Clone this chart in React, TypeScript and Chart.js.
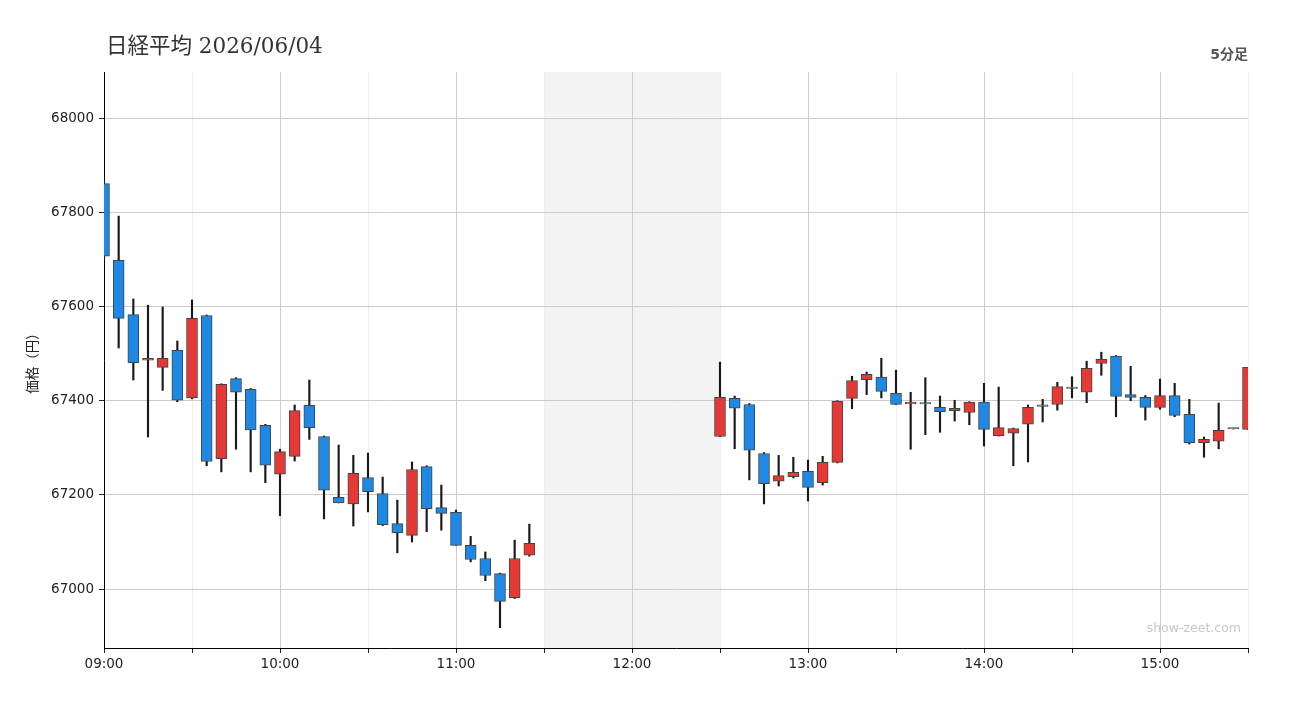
import React, { useEffect, useRef } from 'react';
import { Chart, registerables } from 'chart.js';

Chart.register(...registerables);

// ---- data (5-minute candles) ----
const TIMES = [
  '09:00', '09:05', '09:10', '09:15', '09:20', '09:25', '09:30', '09:35', '09:40', '09:45',
  '09:50', '09:55', '10:00', '10:05', '10:10', '10:15', '10:20', '10:25', '10:30', '10:35',
  '10:40', '10:45', '10:50', '10:55', '11:00', '11:05', '11:10', '11:15', '11:20', '11:25',
  '12:30', '12:35', '12:40', '12:45', '12:50', '12:55', '13:00', '13:05', '13:10', '13:15',
  '13:20', '13:25', '13:30', '13:35', '13:40', '13:45', '13:50', '13:55', '14:00', '14:05',
  '14:10', '14:15', '14:20', '14:25', '14:30', '14:35', '14:40', '14:45', '14:50', '14:55',
  '15:00', '15:05', '15:10', '15:15', '15:20', '15:25', '15:30',
];
const OPEN = [
  67861, 67698, 67583, 67486, 67471, 67507, 67406, 67581, 67277, 67447,
  67424, 67348, 67244, 67282, 67390, 67324, 67195, 67181, 67237, 67203,
  67139, 67114, 67260, 67173, 67163, 67093, 67065, 67033, 66982, 67072,
  67324, 67405, 67392, 67288, 67229, 67239, 67250, 67226, 67269, 67405,
  67445, 67450, 67416, 67393, 67393, 67386, 67379, 67375, 67397, 67326,
  67331, 67350, 67388, 67392, 67426, 67418, 67479, 67495, 67413, 67407,
  67386, 67411, 67371, 67311, 67314, 67340, 67339,
];
const HIGH = [
  67870, 67792, 67616, 67603, 67599, 67527, 67614, 67582, 67436, 67449,
  67426, 67350, 67297, 67391, 67444, 67325, 67306, 67284, 67289, 67238,
  67189, 67270, 67262, 67221, 67168, 67112, 67079, 67034, 67104, 67138,
  67482, 67410, 67394, 67290, 67284, 67280, 67274, 67282, 67400, 67452,
  67461, 67490, 67465, 67418, 67449, 67410, 67401, 67398, 67437, 67429,
  67342, 67391, 67403, 67439, 67451, 67484, 67503, 67496, 67473, 67411,
  67446, 67437, 67403, 67323, 67395, 67340, 67471,
];
const LOW = [
  67700, 67512, 67444, 67323, 67422, 67398, 67404, 67262, 67249, 67297,
  67249, 67226, 67156, 67272, 67318, 67149, 67183, 67134, 67164, 67135,
  67077, 67100, 67122, 67125, 67093, 67058, 67018, 66918, 66980, 67070,
  67324, 67298, 67232, 67181, 67219, 67236, 67187, 67221, 67268, 67383,
  67413, 67406, 67392, 67297, 67328, 67333, 67357, 67349, 67304, 67325,
  67262, 67270, 67355, 67380, 67406, 67396, 67454, 67366, 67400, 67359,
  67382, 67366, 67308, 67280, 67298, 67340, 67339,
];
const CLOSE = [
  67707, 67575, 67481, 67490, 67490, 67401, 67575, 67271, 67435, 67418,
  67338, 67263, 67292, 67379, 67343, 67210, 67183, 67246, 67207, 67137,
  67120, 67254, 67171, 67161, 67093, 67063, 67029, 66974, 67065, 67097,
  67407, 67384, 67295, 67224, 67241, 67248, 67216, 67269, 67399, 67443,
  67456, 67420, 67392, 67397, 67393, 67377, 67384, 67397, 67339, 67343,
  67341, 67386, 67388, 67430, 67426, 67469, 67488, 67409, 67407, 67386,
  67411, 67369, 67311, 67318, 67337, 67340, 67471,
];

const Y_TICKS = [67000, 67200, 67400, 67600, 67800, 68000];
const X_TICKS = ['09:00', '09:30', '10:00', '10:30', '11:00', '11:30', '12:00', '12:30', '13:00', '13:30', '14:00', '14:30', '15:00', '15:30'];

const TITLE = '日経平均 2026/06/04';
const INTERVAL_LABEL = '5分足';
const Y_TITLE = '価格（円）';
const WATERMARK = 'show-zeet.com';
const SESSION_START = '09:00';
const SESSION_END = '15:30';
const BREAK_START = '11:30';
const BREAK_END = '12:30';
const Y_MIN = 66875;
const Y_MAX = 68098;

const UP = '#e53935';
const DOWN = '#1e88e5';
const FLAT = '#777777';

const toMin = (t: string) => {
  const [h, m] = t.split(':').map(Number);
  return h * 60 + m;
};
const BASE = toMin(SESSION_START);
const xOf = (t: string) => toMin(t) - BASE;
const fmt = (v: number) => {
  const t = v + BASE;
  const h = Math.floor(t / 60);
  const m = t % 60;
  return `${String(h).padStart(2, '0')}:${String(m).padStart(2, '0')}`;
};

const SANS = "'DejaVu Sans', 'Noto Sans CJK JP', sans-serif";
const SERIF = "'DejaVu Serif', 'Noto Sans CJK JP', serif";

const overlayPlugin = {
  id: 'overlay',
  beforeDraw(chart: any) {
    const { ctx, chartArea, scales } = chart;
    const x0 = scales.x.getPixelForValue(xOf(BREAK_START));
    const x1 = scales.x.getPixelForValue(xOf(BREAK_END));
    ctx.save();
    ctx.fillStyle = '#f3f3f3';
    ctx.fillRect(x0, chartArea.top, x1 - x0, chartArea.bottom - chartArea.top);
    ctx.restore();
  },
  afterDraw(chart: any) {
    const { ctx, chartArea } = chart;
    ctx.save();
    ctx.textBaseline = 'alphabetic';
    ctx.textAlign = 'left';
    ctx.fillStyle = '#333333';
    ctx.font = `21.5px ${SERIF}`;
    ctx.fillText(TITLE, chartArea.left + 2, 53);

    ctx.textAlign = 'right';
    ctx.fillStyle = '#555555';
    ctx.font = `bold 14px ${SANS}`;
    ctx.fillText(INTERVAL_LABEL, chartArea.right, 59);

    ctx.fillStyle = '#c8c8c8';
    ctx.font = `12.5px ${SANS}`;
    ctx.fillText(WATERMARK, chartArea.right - 7, 632);
    ctx.restore();
  },
};

export default function App() {
  const ref = useRef<HTMLCanvasElement | null>(null);

  useEffect(() => {
    if (!ref.current) return;
    const xs = TIMES.map(xOf);
    const colors = TIMES.map((_, i) =>
      CLOSE[i] > OPEN[i] ? UP : CLOSE[i] < OPEN[i] ? DOWN : FLAT
    );
    const chart = new Chart(ref.current, {
      type: 'bar',
      data: {
        datasets: [
          {
            label: 'body',
            data: xs.map((x, i) => ({ x, y: [OPEN[i], CLOSE[i]] })) as any,
            backgroundColor: colors,
            borderColor: '#444444',
            borderWidth: 1,
            borderSkipped: false,
            barThickness: 11,
            minBarLength: 1.5,
            grouped: false,
            order: 0,
          } as any,
          {
            label: 'wick',
            data: xs.map((x, i) => ({ x, y: [LOW[i], HIGH[i]] })) as any,
            backgroundColor: '#1a1a1a',
            borderWidth: 0,
            barThickness: 1.5,
            grouped: false,
            order: 1,
          } as any,
        ],
      },
      options: {
        animation: false,
        responsive: false,
        devicePixelRatio: 1,
        layout: { padding: { top: 72, right: 52, left: 0, bottom: 0 } },
        plugins: {
          legend: { display: false },
          tooltip: { enabled: false },
          title: { display: false },
        },
        scales: {
          x: {
            type: 'linear',
            offset: false,
            min: xOf(SESSION_START),
            max: xOf(SESSION_END),
            afterBuildTicks: (s: any) => {
              s.ticks = X_TICKS.map((t) => ({ value: xOf(t) }));
            },
            ticks: {
              autoSkip: false,
              maxRotation: 0,
              color: '#222222',
              font: { family: SANS, size: 13.5 },
              padding: 3,
              callback: (v: any) => (Number(v) % 60 === 0 ? fmt(Number(v)) : ''),
            },
            grid: {
              offset: false,
              color: (c: any) => (c.tick && c.tick.value % 60 === 0 ? '#cccccc' : '#eeeeee'),
              tickLength: 5,
              tickColor: '#222222',
            },
            border: { color: '#000000', width: 1 },
            afterFit: (s: any) => {
              s.height = 72;
            },
          } as any,
          y: {
            type: 'linear',
            min: Y_MIN,
            max: Y_MAX,
            afterBuildTicks: (s: any) => {
              s.ticks = Y_TICKS.map((v) => ({ value: v }));
            },
            ticks: {
              color: '#222222',
              font: { family: SANS, size: 13.5 },
              padding: 5,
              callback: (v: any) => String(v),
            },
            grid: { color: '#cccccc', tickLength: 5, tickColor: '#222222' },
            border: { color: '#000000', width: 1 },
            title: {
              display: true,
              text: Y_TITLE,
              color: '#222222',
              font: { family: SANS, size: 13.5 },
              padding: { top: 25, bottom: 0 },
            },
            afterFit: (s: any) => {
              s.width = 104;
            },
          } as any,
        },
      },
      plugins: [overlayPlugin],
    } as any);
    return () => chart.destroy();
  }, []);

  return (
    <div style={{ position: 'fixed', left: 0, top: 0, width: 1300, height: 720, background: '#ffffff' }}>
      <canvas ref={ref} width={1300} height={720} style={{ display: 'block', width: 1300, height: 720 }} />
    </div>
  );
}
